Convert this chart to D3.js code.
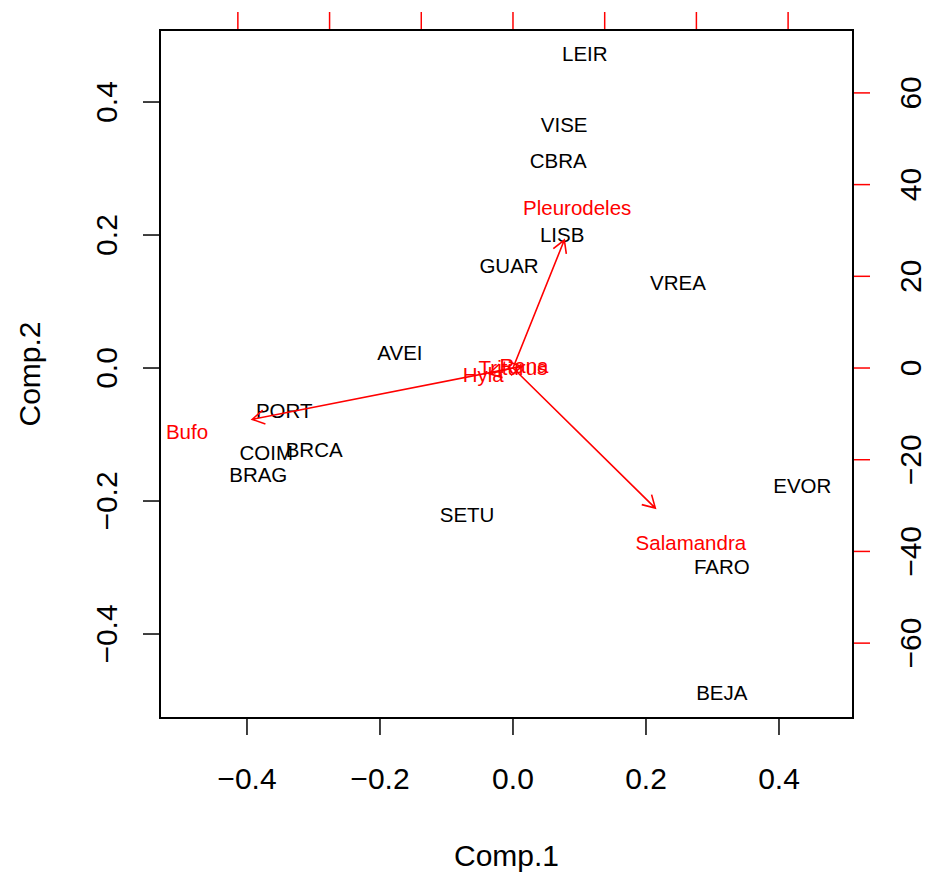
<!DOCTYPE html>
<html>
<head>
<meta charset="utf-8">
<script src="https://cdn.jsdelivr.net/npm/d3@7"></script>
<style>
  body { margin: 0; background: #fff; }
  text { font-family: "Liberation Sans", Arial, sans-serif; }
</style>
</head>
<body>
<svg id="chart" width="928" height="876"></svg>
<script>
// site scores (Comp.1, Comp.2)
const sites = ["LEIR", "VISE", "CBRA", "LISB", "GUAR", "VREA", "AVEI", "PORT",
  "BRCA", "COIM", "BRAG", "SETU", "EVOR", "FARO", "BEJA"];
const comp1 = [0.108, 0.077, 0.068, 0.074, -0.006, 0.248, -0.170, -0.344,
  -0.299, -0.371, -0.383, -0.069, 0.435, 0.314, 0.314];
const comp2 = [0.472, 0.365, 0.311, 0.201, 0.153, 0.128, 0.023, -0.065,
  -0.123, -0.128, -0.161, -0.221, -0.177, -0.299, -0.489];

// species loadings (secondary axes)
const species = ["Bufo", "Pleurodeles", "Salamandra", "Hyla", "Triturus", "Rana"];
const load1 = [-71.1, 14.0, 38.8, -6.5, 0.0, 2.4];
const load2 = [-14.0, 34.9, -38.2, -1.5, 0.0, 0.4];

const xTicks = [-0.4, -0.2, 0.0, 0.2, 0.4];
const yTicks = [-0.4, -0.2, 0.0, 0.2, 0.4];
const secTicks = [-60, -40, -20, 0, 20, 40, 60];

const svg = d3.select("#chart");
const mLeft = 160, mRight = 853, mTop = 30, mBottom = 718;
const ratio = 145.03;
const axisFont = 30;

const x = d3.scaleLinear().domain([-0.5308, 0.5113]).range([mLeft, mRight]);
const y = d3.scaleLinear().domain([-0.5263, 0.5083]).range([mBottom, mTop]);
const xs = d3.scaleLinear().domain(x.domain().map(d => d * ratio)).range([mLeft, mRight]);
const ys = d3.scaleLinear().domain(y.domain().map(d => d * ratio)).range([mBottom, mTop]);

const fmt = d => d3.format(".1f")(d).replace("-", "\u2212");

// bottom axis
const bx = svg.append("g");
bx.selectAll("line").data(xTicks).join("line")
  .attr("x1", d => x(d)).attr("x2", d => x(d))
  .attr("y1", mBottom).attr("y2", mBottom + 17)
  .attr("stroke", "#000").attr("stroke-width", 1.5);
bx.selectAll("text").data(xTicks).join("text")
  .attr("x", d => x(d)).attr("y", 789)
  .attr("text-anchor", "middle").attr("font-size", axisFont)
  .text(fmt);

// left axis
const ly = svg.append("g");
ly.selectAll("line").data(yTicks).join("line")
  .attr("x1", mLeft - 17).attr("x2", mLeft)
  .attr("y1", d => y(d)).attr("y2", d => y(d))
  .attr("stroke", "#000").attr("stroke-width", 1.5);
ly.selectAll("text").data(yTicks).join("text")
  .attr("transform", d => `translate(117,${y(d)}) rotate(-90)`)
  .attr("text-anchor", "middle").attr("font-size", axisFont)
  .text(fmt);

// top axis (species scale), ticks only
svg.append("g").selectAll("line").data(secTicks).join("line")
  .attr("x1", d => xs(d)).attr("x2", d => xs(d))
  .attr("y1", mTop).attr("y2", mTop - 18)
  .attr("stroke", "red").attr("stroke-width", 1.5);

// right axis (species scale)
const ry = svg.append("g");
ry.selectAll("line").data(secTicks).join("line")
  .attr("x1", mRight).attr("x2", mRight + 17)
  .attr("y1", d => ys(d)).attr("y2", d => ys(d))
  .attr("stroke", "red").attr("stroke-width", 1.5);
ry.selectAll("text").data(secTicks).join("text")
  .attr("transform", d => `translate(921,${ys(d)}) rotate(-90)`)
  .attr("text-anchor", "middle").attr("font-size", axisFont)
  .text(d => String(d).replace("-", "\u2212"));

// box
svg.append("rect").attr("x", mLeft).attr("y", mTop)
  .attr("width", mRight - mLeft).attr("height", mBottom - mTop)
  .attr("fill", "none").attr("stroke", "#000").attr("stroke-width", 2);

// axis titles
svg.append("text").attr("x", (mLeft + mRight) / 2).attr("y", 866)
  .attr("text-anchor", "middle").attr("font-size", axisFont).text("Comp.1");
svg.append("text").attr("transform", `translate(40,${(mTop + mBottom) / 2}) rotate(-90)`)
  .attr("text-anchor", "middle").attr("font-size", axisFont).text("Comp.2");

// site labels
svg.append("g").selectAll("text").data(sites).join("text")
  .attr("x", (d, i) => x(comp1[i])).attr("y", (d, i) => y(comp2[i]))
  .attr("dy", "0.35em").attr("text-anchor", "middle")
  .attr("font-size", 20.5).attr("fill", "#000")
  .text(d => d);

// species arrows
const ag = svg.append("g").attr("stroke", "red").attr("stroke-width", 1.6).attr("fill", "none");
const head = 14, ang = Math.PI / 6;
species.forEach((s, i) => {
  const x0 = xs(0), y0 = ys(0);
  const x1 = xs(load1[i] * 0.8), y1 = ys(load2[i] * 0.8);
  if (Math.hypot(x1 - x0, y1 - y0) < 1) return;
  const th = Math.atan2(y1 - y0, x1 - x0);
  const hx1 = x1 - head * Math.cos(th - ang), hy1 = y1 - head * Math.sin(th - ang);
  const hx2 = x1 - head * Math.cos(th + ang), hy2 = y1 - head * Math.sin(th + ang);
  ag.append("path").attr("d", `M${x0},${y0}L${x1},${y1}M${hx1},${hy1}L${x1},${y1}L${hx2},${hy2}`);
});

svg.append("g").selectAll("text").data(species).join("text")
  .attr("x", (d, i) => xs(load1[i])).attr("y", (d, i) => ys(load2[i]))
  .attr("dy", "0.35em").attr("text-anchor", "middle")
  .attr("font-size", 20.5).attr("fill", "red")
  .text(d => d);
</script>
</body>
</html>
